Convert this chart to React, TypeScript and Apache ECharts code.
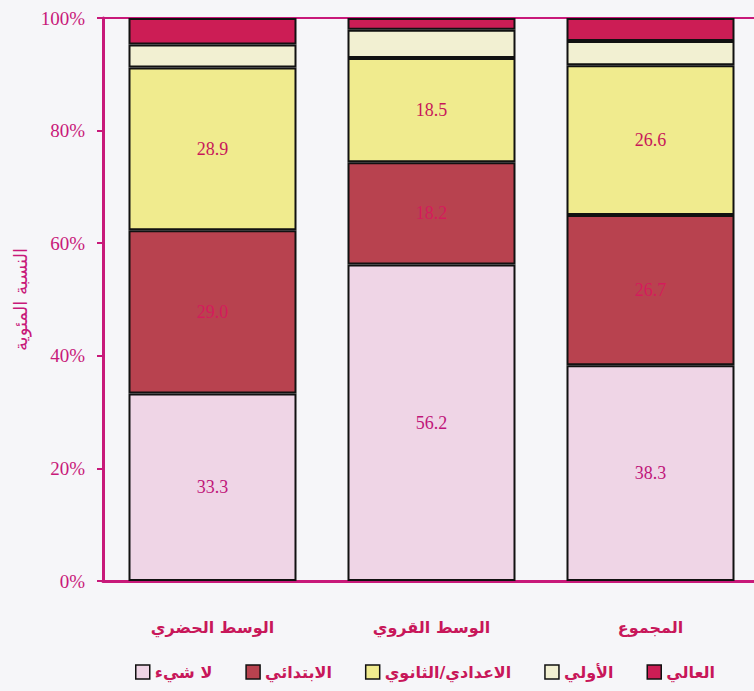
import React, { useEffect, useRef } from "react";
import * as echarts from "echarts";

const categories = ["الوسط الحضري", "الوسط القروي", "المجموع"];
const seriesNames = ["لا شيء", "الابتدائي", "الاعدادي/الثانوي", "الأولي", "العالي"];
const noneValues = [33.3, 56.2, 38.3];
const primaryValues = [29.0, 18.2, 26.7];
const secondaryValues = [28.9, 18.5, 26.6];
const preschoolValues = [4.1, 5.0, 4.3];
const higherValues = [4.7, 2.1, 4.1];
const yTicks = [0, 20, 40, 60, 80, 100];

const MAGENTA = "#c8197a";
const CRIMSON = "#c8175a";
const SERIF = "'Liberation Serif', 'DejaVu Serif', serif";
const SANS = "'DejaVu Sans', sans-serif";

export default function App() {
  const ref = useRef<HTMLDivElement>(null);
  useEffect(() => {
    if (!ref.current) return;
    const chart = echarts.init(ref.current, null, { renderer: "svg" });
    const colors = ["#efd5e6", "#b8424f", "#f0eb8e", "#f2f0d2", "#cc1d55"];
    const valuesList = [noneValues, primaryValues, secondaryValues, preschoolValues, higherValues];
    const labelShown = [true, true, true, false, false];
    const labelColors = ["#c0157a", "#d41b5c", "#c8175a", CRIMSON, CRIMSON];
    const series = seriesNames.map((name, i) => ({
      name,
      type: "bar",
      stack: "total",
      barWidth: 168,
      data: valuesList[i],
      itemStyle: { color: colors[i], borderColor: "#111", borderWidth: 2 },
      label: {
        show: labelShown[i],
        position: "inside",
        formatter: (p: any) => Number(p.value).toFixed(1),
        fontFamily: SERIF,
        fontSize: 18,
        color: labelColors[i],
      },
    }));
    chart.setOption({
      animation: false,
      backgroundColor: "#f6f6f9",
      grid: {
        left: 103,
        width: 657,
        top: 18,
        bottom: 110,
        containLabel: false,
        outerBoundsMode: "none",
      },
      legend: {
        data: seriesNames,
        icon: "rect",
        left: 130,
        top: 659,
        itemWidth: 14,
        itemHeight: 14,
        itemGap: 33,
        itemStyle: { borderColor: "#111", borderWidth: 1.5 },
        textStyle: { fontFamily: SANS, fontSize: 16, fontWeight: "bold", color: CRIMSON },
      },
      xAxis: [
        {
          type: "category",
          data: categories,
          axisLine: { lineStyle: { color: MAGENTA, width: 3 } },
          axisTick: { show: false },
          axisLabel: {
            margin: 38,
            fontFamily: SANS,
            fontSize: 16,
            fontWeight: "bold",
            color: CRIMSON,
          },
        },
        {
          type: "category",
          position: "top",
          data: categories,
          axisLine: { show: true, lineStyle: { color: MAGENTA, width: 2 } },
          axisTick: { show: false },
          axisLabel: { show: false },
        },
      ],
      yAxis: {
        type: "value",
        min: yTicks[0],
        max: yTicks[yTicks.length - 1],
        interval: 20,
        name: "النسبة المئوية",
        nameLocation: "middle",
        nameGap: 74,
        nameRotate: 90,
        nameTextStyle: { fontFamily: SANS, fontSize: 18, color: MAGENTA },
        axisLine: { show: true, lineStyle: { color: MAGENTA, width: 3 } },
        axisTick: { show: true, length: 6, lineStyle: { color: MAGENTA, width: 2 } },
        splitLine: { show: false },
        axisLabel: {
          formatter: "{value}%",
          margin: 18,
          fontFamily: SERIF,
          fontSize: 19,
          color: MAGENTA,
        },
      },
      series,
    });
    return () => chart.dispose();
  }, []);
  return (
    <div
      ref={ref}
      style={{ position: "fixed", left: 0, top: 0, width: 754, height: 691 }}
    />
  );
}
